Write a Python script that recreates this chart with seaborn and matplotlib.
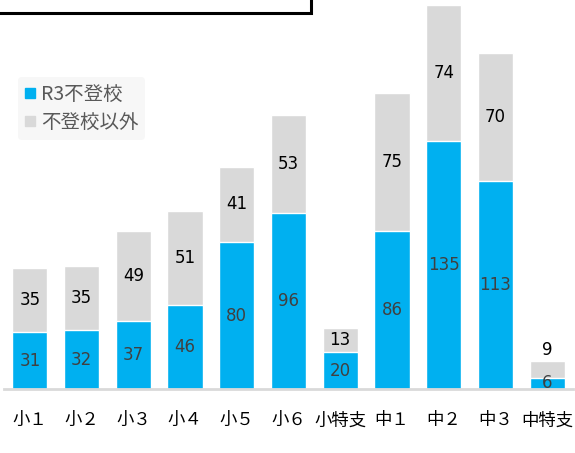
import matplotlib
matplotlib.use("Agg")
import matplotlib.pyplot as plt
from matplotlib.lines import Line2D
from matplotlib.patches import Rectangle
import seaborn as sns
import pandas as pd

categories = ["小１", "小２", "小３", "小４", "小５", "小６", "小特支", "中１", "中２", "中３", "中特支"]
futoko = [31, 32, 37, 46, 80, 96, 20, 86, 135, 113, 6]
other = [35, 35, 49, 51, 41, 53, 13, 75, 74, 70, 9]

BLUE = "#00B0F0"
GRAY = "#D9D9D9"

sns.set_theme(style="white")
plt.rcParams["font.family"] = ["DejaVu Sans", "Noto Sans CJK JP"]

df = pd.DataFrame({"cat": categories, "futoko": futoko, "other": other})
df["total"] = df["futoko"] + df["other"]

fig = plt.figure(figsize=(5.75, 4.53), dpi=100)
ax = fig.add_axes([4 / 575, 64 / 453, 569 / 575, 389 / 453])

sns.barplot(data=df, x="cat", y="total", color=GRAY, width=0.68, saturation=1, ax=ax)
sns.barplot(data=df, x="cat", y="futoko", color=BLUE, width=0.68, saturation=1, ax=ax)

ax.set_ylim(0, 211.8)
ax.set_xlim(-0.5, 10.5)
ax.set_xlabel("")
ax.set_ylabel("")
ax.set_yticks([])
for s in ["top", "right", "left"]:
    ax.spines[s].set_visible(False)
ax.spines["bottom"].set_color(GRAY)
ax.spines["bottom"].set_linewidth(2)
ax.tick_params(axis="x", length=0, pad=16, labelsize=12.5, labelcolor="black")
for t in ax.get_xticklabels():
    t.set_family(["Noto Sans CJK JP", "DejaVu Sans"])

# value labels
for i, (b, o) in enumerate(zip(futoko, other)):
    ax.text(i, b / 2, str(b), ha="center", va="center", fontsize=12, color="#404040")
    if o < 10:
        ax.text(i, b + o + 6.5, str(o), ha="center", va="center", fontsize=12, color="black")
    else:
        ax.text(i, b + o / 2, str(o), ha="center", va="center", fontsize=12, color="black")

handles = [
    Line2D([], [], marker="s", linestyle="", color=BLUE, markersize=7),
    Line2D([], [], marker="s", linestyle="", color=GRAY, markersize=7),
]
leg = fig.legend(handles, ["R3不登校", "不登校以外"], loc="upper left",
                 bbox_to_anchor=(8 / 575, 1 - 67 / 453), frameon=True,
                 facecolor="#F7F7F7", edgecolor="none", framealpha=1,
                 handlelength=0.6, handletextpad=0.25, labelspacing=0.4,
                 borderpad=0.35, prop={"family": ["Noto Sans CJK JP"], "size": 14})
for t in leg.get_texts():
    t.set_color("#595959")

# title box outline (partially visible at the top)
fig.patches.append(Rectangle((-0.02, 1 - 13 / 453), 311 / 575 + 0.02, 0.2,
                             transform=fig.transFigure, fill=False,
                             edgecolor="black", linewidth=2.2))

fig.savefig("out.png", dpi=100)
